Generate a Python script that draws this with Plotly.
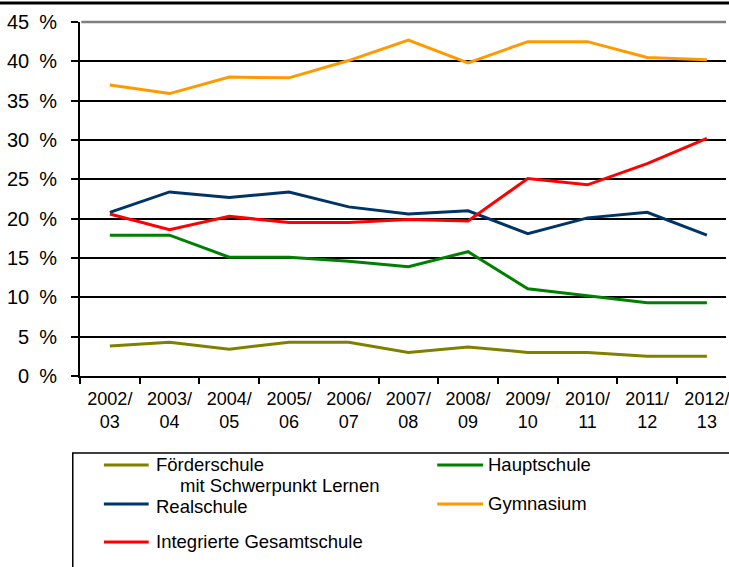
import plotly.graph_objects as go

years = ["2002/<br>03", "2003/<br>04", "2004/<br>05", "2005/<br>06", "2006/<br>07",
         "2007/<br>08", "2008/<br>09", "2009/<br>10", "2010/<br>11", "2011/<br>12", "2012/<br>13"]

foerderschule = [3.8, 4.3, 3.4, 4.3, 4.3, 3.0, 3.7, 3.0, 3.0, 2.5, 2.5]
hauptschule = [17.9, 17.9, 15.1, 15.1, 14.6, 13.9, 15.8, 11.1, 10.2, 9.3, 9.3]
realschule = [20.8, 23.4, 22.7, 23.4, 21.5, 20.6, 21.0, 18.1, 20.1, 20.8, 17.9]
gymnasium = [37.0, 35.9, 38.0, 37.9, 40.1, 42.7, 39.8, 42.5, 42.5, 40.5, 40.2]
gesamtschule = [20.6, 18.6, 20.3, 19.5, 19.5, 19.9, 19.7, 25.1, 24.3, 27.0, 30.2]

y_ticks = [0, 5, 10, 15, 20, 25, 30, 35, 40, 45]
y_ticktext = ["0\u2002%", "5\u2002%", "10\u2002%", "15\u2002%", "20\u2002%",
              "25\u2002%", "30\u2002%", "35\u2002%", "40\u2002%", "45\u2002%"]

series = [
    ("Förderschule", foerderschule, "#808000"),
    ("Hauptschule", hauptschule, "#008000"),
    ("Realschule", realschule, "#003366"),
    ("Gymnasium", gymnasium, "#FF9900"),
    ("Integrierte Gesamtschule", gesamtschule, "#FF0000"),
]
legend_sub = "mit Schwerpunkt Lernen"

FONT = "Liberation Sans, Arial, sans-serif"

fig = go.Figure()
for name, vals, col in series:
    fig.add_trace(go.Scatter(x=years, y=vals, mode="lines", name=name,
                             line=dict(color=col, width=3), showlegend=False))

fig.update_layout(
    width=729, height=567,
    margin=dict(l=80, r=0, t=22, b=191),
    paper_bgcolor="white", plot_bgcolor="white",
    font=dict(family=FONT, color="black"),
    xaxis=dict(type="category", range=[-0.5, 10.32], showgrid=False,
               showline=True, linecolor="black", linewidth=2,
               ticks="outside", tickson="boundaries", ticklen=6, tickwidth=2,
               tickcolor="black", ticklabelstandoff=5,
               tickfont=dict(size=18, family=FONT)),
    yaxis=dict(range=[0, 45], tickmode="array", tickvals=y_ticks, ticktext=y_ticktext,
               showgrid=True, gridcolor="black", gridwidth=2, zeroline=False,
               showline=True, linecolor="black", linewidth=2,
               ticks="outside", ticklen=7, tickwidth=2, tickcolor="black",
               ticklabelstandoff=10, tickfont=dict(size=20, family=FONT)),
)

# gray top gridline at 45 %
fig.add_shape(type="line", xref="paper", yref="paper", x0=0.002, x1=1, y0=1, y1=1,
              line=dict(color="#808080", width=2.5), layer="above")
# top frame line
fig.add_shape(type="line", xref="paper", yref="paper", x0=-0.2, x1=1.1, y0=1.0537, y1=1.0537,
              line=dict(color="black", width=3))

# legend box
fig.add_shape(type="rect", xref="paper", yref="paper", x0=-0.0112, x1=1.1, y0=-0.2175, y1=-0.7,
              line=dict(color="black", width=1.5))

# (line x0, line x1, text x, line y, text y)
leg_pos = [(0.037, 0.1063, 0.1156, -0.2514, -0.2514), (0.553, 0.624, 0.630, -0.2514, -0.2514),
           (0.037, 0.1063, 0.1156, -0.3615, -0.3700), (0.553, 0.624, 0.630, -0.3615, -0.3615),
           (0.037, 0.1063, 0.1156, -0.4689, -0.4689)]
for (name, vals, col), (lx0, lx1, tx, ly, ty) in zip(series, leg_pos):
    fig.add_shape(type="line", xref="paper", yref="paper", x0=lx0, x1=lx1, y0=ly, y1=ly,
                  line=dict(color=col, width=3))
    fig.add_annotation(xref="paper", yref="paper", x=tx, y=ty, text=name, showarrow=False,
                       xanchor="left", yanchor="middle", borderpad=0,
                       font=dict(size=18.5, family=FONT, color="black"))
fig.add_annotation(xref="paper", yref="paper", x=0.154, y=-0.3093, text=legend_sub,
                   showarrow=False, xanchor="left", yanchor="middle", borderpad=0,
                   font=dict(size=18.5, family=FONT, color="black"))

fig.write_html("out.html", config={"displayModeBar": False},
               post_script="document.body.style.margin='0';document.body.style.overflow='hidden';")
